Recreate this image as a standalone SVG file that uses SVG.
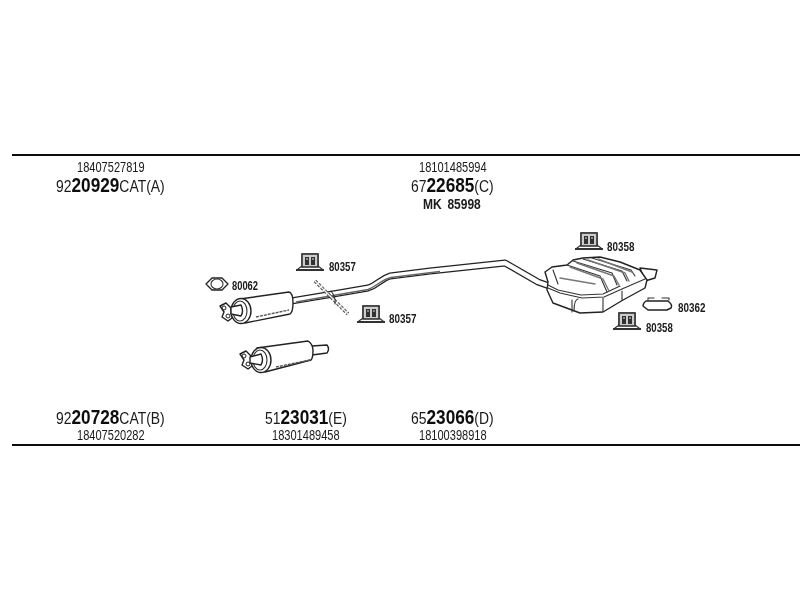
<svg xmlns="http://www.w3.org/2000/svg" width="800" height="600" viewBox="0 0 800 600">
<style>
text{font-family:"Liberation Sans",Arial,sans-serif;fill:#1a1a1a}
.s{font-size:17px}
.b{font-size:21px;font-weight:bold;fill:#111}
.p{font-size:14px}
.n{font-size:13px;font-weight:bold}
.k{font-size:15px;font-weight:bold;word-spacing:3px}
.o{fill:#fff;stroke:#222;stroke-width:1.4;stroke-linejoin:round;stroke-linecap:round}
.t{fill:none;stroke:#333;stroke-width:1.1;stroke-linecap:round;stroke-linejoin:round}
.g{fill:none;stroke:#777;stroke-width:1.4;stroke-linecap:round;stroke-linejoin:round}
.rule{stroke:#111;stroke-width:2}
</style>
<defs>
<filter id="soft" x="0" y="0" width="100%" height="100%" filterUnits="userSpaceOnUse"><feGaussianBlur stdDeviation="0.4"/></filter>
<g id="clip">
<path d="M0 17H28" stroke="#333" stroke-width="2"/>
<path class="t" d="M2 16L6 13V1H22V13L26 16"/>
<rect x="6" y="1" width="16" height="13" fill="#ccc" stroke="#333" stroke-width="1.6"/>
<path d="M9 4H13V12H9ZM15 4H19V12H15Z" fill="#333"/>
<path d="M10 6H12M16 6H18" stroke="#ddd" stroke-width="1"/>
</g>
<g id="flange">
<path class="o" d="M0 3L6 0L13 7L12 15L8 18L2 14L4 9Z"/>
<circle cx="4" cy="5" r="2" fill="none" stroke="#222"/>
<circle cx="8" cy="13" r="2" fill="none" stroke="#222"/>
</g>
</defs>

<g id="all" filter="url(#soft)">
<g id="rules">
<line class="rule" x1="12" y1="155" x2="800" y2="155"/>
<line class="rule" x1="12" y1="445" x2="800" y2="445"/>
</g>

<g id="connectors">
<path d="M291 301L333 294L368 288C378 285 380 279 390 276L430 271L505 263L538 282L552 287" fill="none" stroke="#222" stroke-width="7" stroke-linejoin="round"/>
<path d="M291 301L333 294L368 288C378 285 380 279 390 276L430 271L505 263L538 282L552 287" fill="none" stroke="#fff" stroke-width="4.4" stroke-linejoin="round"/>
<path d="M296 302L333 295.500L368 289.500C377 286 381 280 391 277.500L440 271.500" fill="none" stroke="#666" stroke-width="1.4"/>
</g>

<g id="strap">
<path d="M315 281L348 314" stroke="#555" stroke-width="3.500" stroke-dasharray="3 1.5" fill="none"/>
<path d="M315 281L348 314" stroke="#eee" stroke-width="1.2" fill="none"/>
<path class="t" d="M331 291Q336 297 335 304"/>
</g>

<g id="front-muffler">
<use href="#flange" x="220" y="303"/>
<path class="o" d="M240 299L289 292Q293 293 293 303Q293 312 290 314L245 323Z"/>
<ellipse class="o" cx="241" cy="311" rx="10" ry="12.5"/>
<ellipse class="t" cx="240" cy="311" rx="7" ry="10"/>
<path class="o" d="M231 307L241 305Q244 311 241 316L231 314Z"/>
<path d="M256 317L289 310" stroke="#555" stroke-width="1.4" stroke-dasharray="3 1"/>
</g>

<g id="alt-muffler">
<use href="#flange" x="240" y="351"/>
<path class="o" d="M312 346L327 345Q330 349 327 353L312 355Z"/>
<path class="o" d="M257 348L308 341Q313 344 313 351Q313 358 311 360L265 372Z"/>
<ellipse class="o" cx="261" cy="360" rx="10" ry="12.5"/>
<ellipse class="t" cx="260" cy="360" rx="7" ry="10"/>
<path class="o" d="M250 357L261 354Q264 360 261 365L250 363Z"/>
<path d="M276 367L310 360" stroke="#555" stroke-width="1.4" stroke-dasharray="3 1"/>
</g>

<g id="rear-muffler">
<path class="o" d="M640 268L657 270L655 278L645 281Z"/>
<path class="o" stroke-width="1.6" d="M545 272L552 267L567 265L573 260L583 258L600 257L620 262L640 270L647 280L645 288L623 300L603 312L580 313L553 303L547 290L548 282Z"/>
<path class="t" d="M548 288L560 293L582 298L604 297L622 289L645 279"/>
<path class="t" d="M548 285L558 290L581 295L603 294L620 286"/>
<path class="t" d="M553 270L558 284M567 265L600 276L607 292M573 261L612 273L617 285M583 259L622 271L627 281M592 258L631 270L635 276"/>
<path class="g" d="M570 267L603 279L609 291M577 263L614 276L619 285M588 260L625 273L629 281M598 259L632 272"/>
<path class="g" d="M560 278L595 284"/>
<path class="t" d="M572 300V312M578 299Q574 300 574 311M603 298V311M622 291V300"/>
</g>

<g id="part-80062">
<path class="o" d="M206 284L212 278H222L228 284L222 290H212Z"/>
<ellipse class="t" cx="217" cy="284" rx="6" ry="5"/>
<text class="n" transform="translate(232 290) scale(.72 1)">80062</text>
</g>
<g id="part-80357-a">
<use href="#clip" x="296" y="253"/>
<text class="n" transform="translate(329 271) scale(.74 1)">80357</text>
</g>
<g id="part-80357-b">
<use href="#clip" x="357" y="305"/>
<text class="n" transform="translate(389 323) scale(.76 1)">80357</text>
</g>
<g id="part-80358-a">
<use href="#clip" x="575" y="232"/>
<text class="n" transform="translate(607 251) scale(.76 1)">80358</text>
</g>
<g id="part-80358-b">
<use href="#clip" x="613" y="312"/>
<text class="n" transform="translate(646 332) scale(.74 1)">80358</text>
</g>
<g id="part-80362">
<path class="o" d="M646 301H668Q673 305 671 308L667 310H648L643 306Q643 303 646 301Z"/>
<path class="t" d="M648 300V298H654M662 298H669V300"/>
<text class="n" transform="translate(678 312) scale(.76 1)">80362</text>
</g>

<g id="label-a">
<text class="p" transform="translate(77 172) scale(.79 1)">18407527819</text>
<text transform="translate(56 192) scale(.82 1)"><tspan class="s">92</tspan><tspan class="b">20929</tspan><tspan class="s">CAT(A)</tspan></text>
</g>
<g id="label-c">
<text class="p" transform="translate(419 171.500) scale(.79 1)">18101485994</text>
<text transform="translate(411 191.500) scale(.82 1)"><tspan class="s">67</tspan><tspan class="b">22685</tspan><tspan class="s">(C)</tspan></text>
<text class="k" transform="translate(423 209) scale(.8 1)">MK 85998</text>
</g>
<g id="label-b">
<text transform="translate(56 424) scale(.82 1)"><tspan class="s">92</tspan><tspan class="b">20728</tspan><tspan class="s">CAT(B)</tspan></text>
<text class="p" transform="translate(77 440) scale(.79 1)">18407520282</text>
</g>
<g id="label-e">
<text transform="translate(265 424) scale(.82 1)"><tspan class="s">51</tspan><tspan class="b">23031</tspan><tspan class="s">(E)</tspan></text>
<text class="p" transform="translate(272 440) scale(.79 1)">18301489458</text>
</g>
<g id="label-d">
<text transform="translate(411 424) scale(.82 1)"><tspan class="s">65</tspan><tspan class="b">23066</tspan><tspan class="s">(D)</tspan></text>
<text class="p" transform="translate(419 440) scale(.79 1)">18100398918</text>
</g>
</g>
</svg>
